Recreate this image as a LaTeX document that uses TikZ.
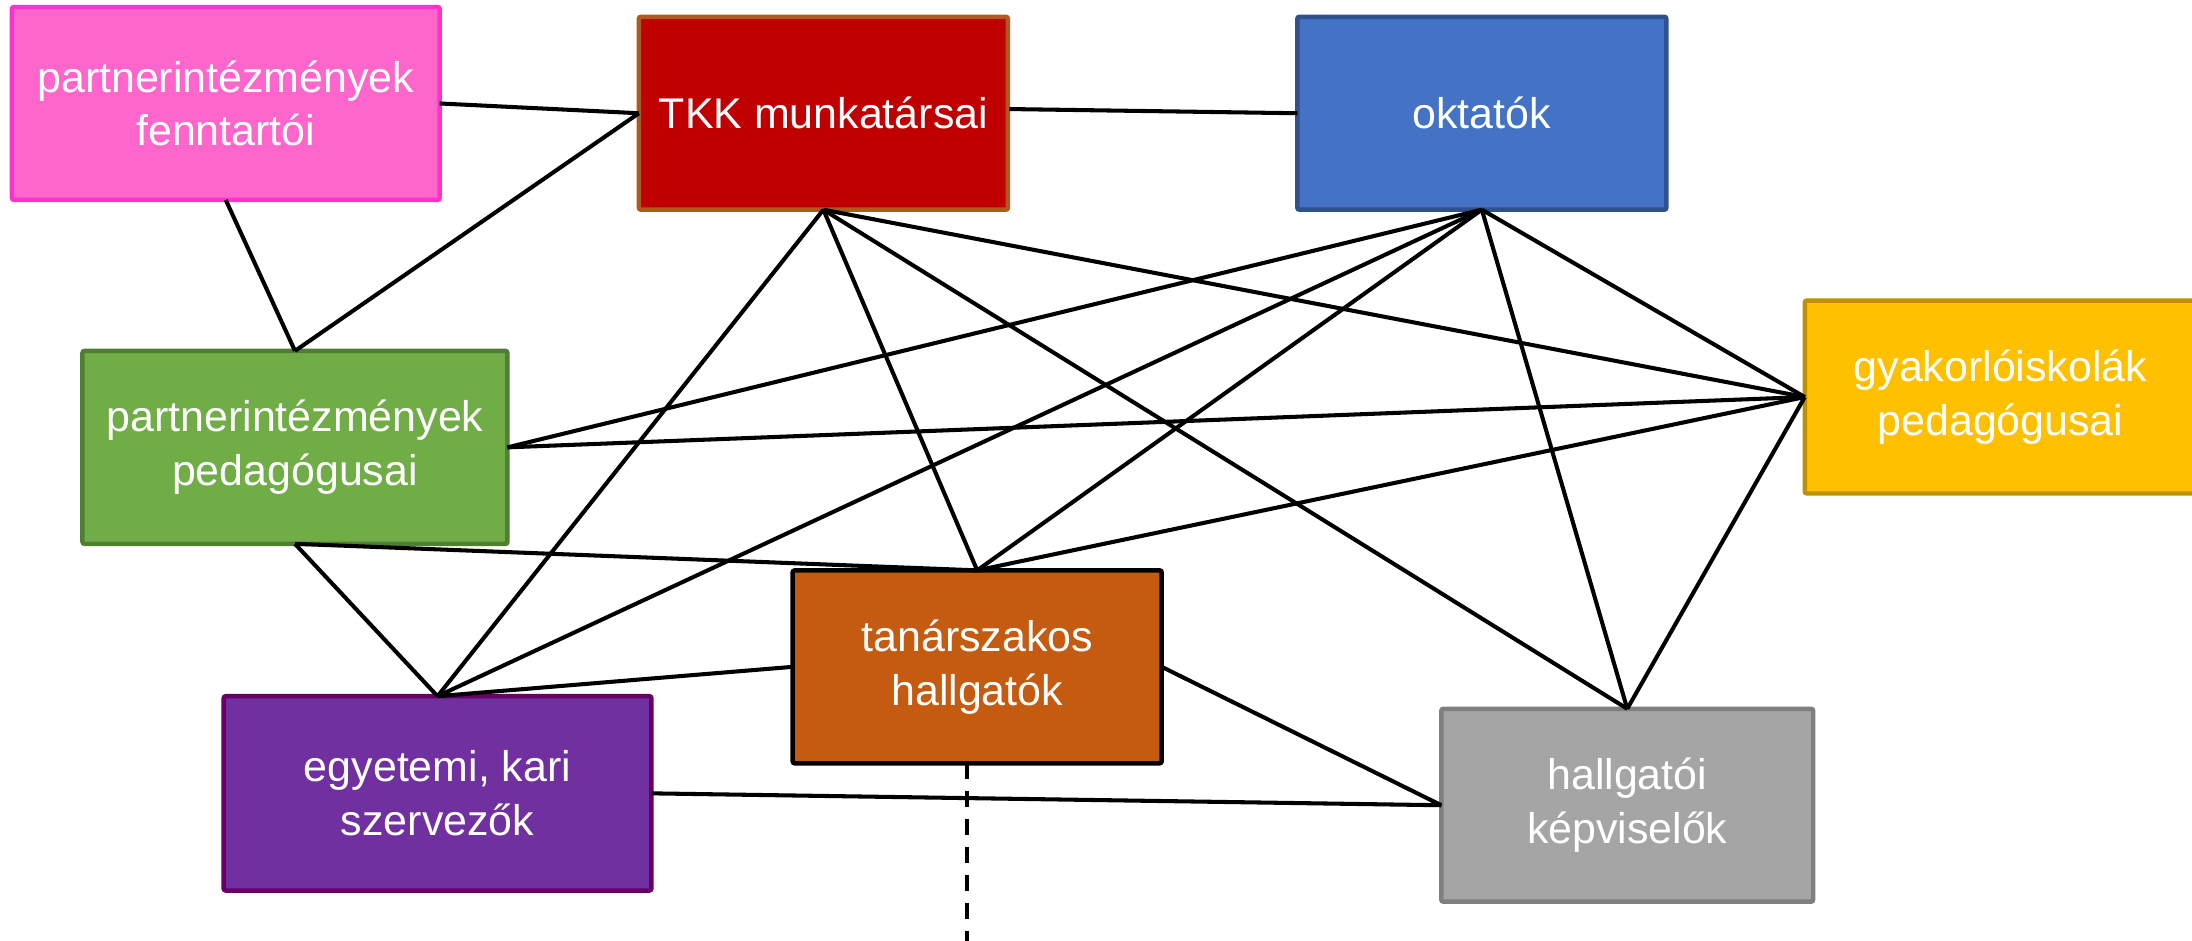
\documentclass[tikz,border=0pt]{standalone}
\usepackage{fontspec}
\setmainfont{Liberation Sans}
\usetikzlibrary{calc}
\definecolor{pinkfill}{HTML}{FF66CC}
\definecolor{pinkline}{HTML}{FF33CC}
\definecolor{redfill}{HTML}{C00000}
\definecolor{redline}{HTML}{AE5A21}
\definecolor{bluefill}{HTML}{4472C4}
\definecolor{blueline}{HTML}{2F528F}
\definecolor{yellowfill}{HTML}{FFC000}
\definecolor{yellowline}{HTML}{BF9000}
\definecolor{greenfill}{HTML}{70AD47}
\definecolor{greenline}{HTML}{507E32}
\definecolor{orangefill}{HTML}{C55A11}
\definecolor{purplefill}{HTML}{7030A0}
\definecolor{purpleline}{HTML}{660066}
\definecolor{grayfill}{HTML}{A5A5A5}
\definecolor{grayline}{HTML}{7F7F7F}
\tikzset{
  box/.style={draw, line width=3.2pt, rounded corners=1.5pt, align=center,
    text=white, inner sep=0pt, outer sep=0pt,
    font=\fontsize{30.7}{38.5}\selectfont},
  link/.style={line width=2.9pt, black},
}
\begin{document}
\begin{tikzpicture}[x=1pt, y=-1pt]
\useasboundingbox (0,0) rectangle (1568,673);
\node[box, fill=pinkfill, draw=pinkline, minimum width=306pt, minimum height=138pt] (pink) at (161.5,74) {partnerintézmények\\fenntartói};
\node[box, fill=redfill, draw=redline, minimum width=264pt, minimum height=138pt] (tkk) at (589,81) {TKK munkatársai};
\node[box, fill=bluefill, draw=blueline, minimum width=264pt, minimum height=138pt] (okt) at (1060,81) {oktatók};
\node[box, fill=yellowfill, draw=yellowline, minimum width=280pt, minimum height=138pt] (gyak) at (1431,284) {gyakorlóiskolák\\pedagógusai};
\node[box, fill=greenfill, draw=greenline, minimum width=304pt, minimum height=138pt] (green) at (211,320) {partnerintézmények\\pedagógusai};
\node[box, fill=orangefill, draw=black, minimum width=264pt, minimum height=138pt] (tanar) at (699,477) {tanárszakos\\hallgatók};
\node[box, fill=purplefill, draw=purpleline, minimum width=306pt, minimum height=139pt] (purple) at (313,567.5) {egyetemi, kari\\szervezők};
\node[box, fill=grayfill, draw=grayline, minimum width=266pt, minimum height=138pt] (gray) at (1164,576) {hallgatói\\képviselők};
\coordinate (dashstart) at ($(tanar.south)+(-7,0)$);
\coordinate (dashend) at ($(dashstart)+(0,130)$);
\coordinate (tkkright) at ($(tkk.east)+(1,-3)$);

\draw[link] (pink.east) -- (tkk.west);
\draw[link] (pink.south) -- (green.north);
\draw[link] (green.north) -- (tkk.west);
\draw[link] (tkkright) -- (okt.west);
\draw[link] (tkk.south) -- (purple.north);
\draw[link] (tkk.south) -- (tanar.north);
\draw[link] (tkk.south) -- (gray.north);
\draw[link] (tkk.south) -- (gyak.west);
\draw[link] (okt.south) -- (green.east);
\draw[link] (okt.south) -- (purple.north);
\draw[link] (okt.south) -- (tanar.north);
\draw[link] (okt.south) -- (gyak.west);
\draw[link] (okt.south) -- (gray.north);
\draw[link] (green.east) -- (gyak.west);
\draw[link] (green.south) -- (tanar.north);
\draw[link] (green.south) -- (purple.north);
\draw[link] (tanar.north) -- (gyak.west);
\draw[link] (gyak.west) -- (gray.north);
\draw[link] (purple.north) -- (tanar.west);
\draw[link] (tanar.east) -- (gray.west);
\draw[link] (purple.east) -- (gray.west);
\draw[link, dash pattern=on 11.5pt off 8.5pt] (dashstart) -- (dashend);
\end{tikzpicture}
\end{document}
